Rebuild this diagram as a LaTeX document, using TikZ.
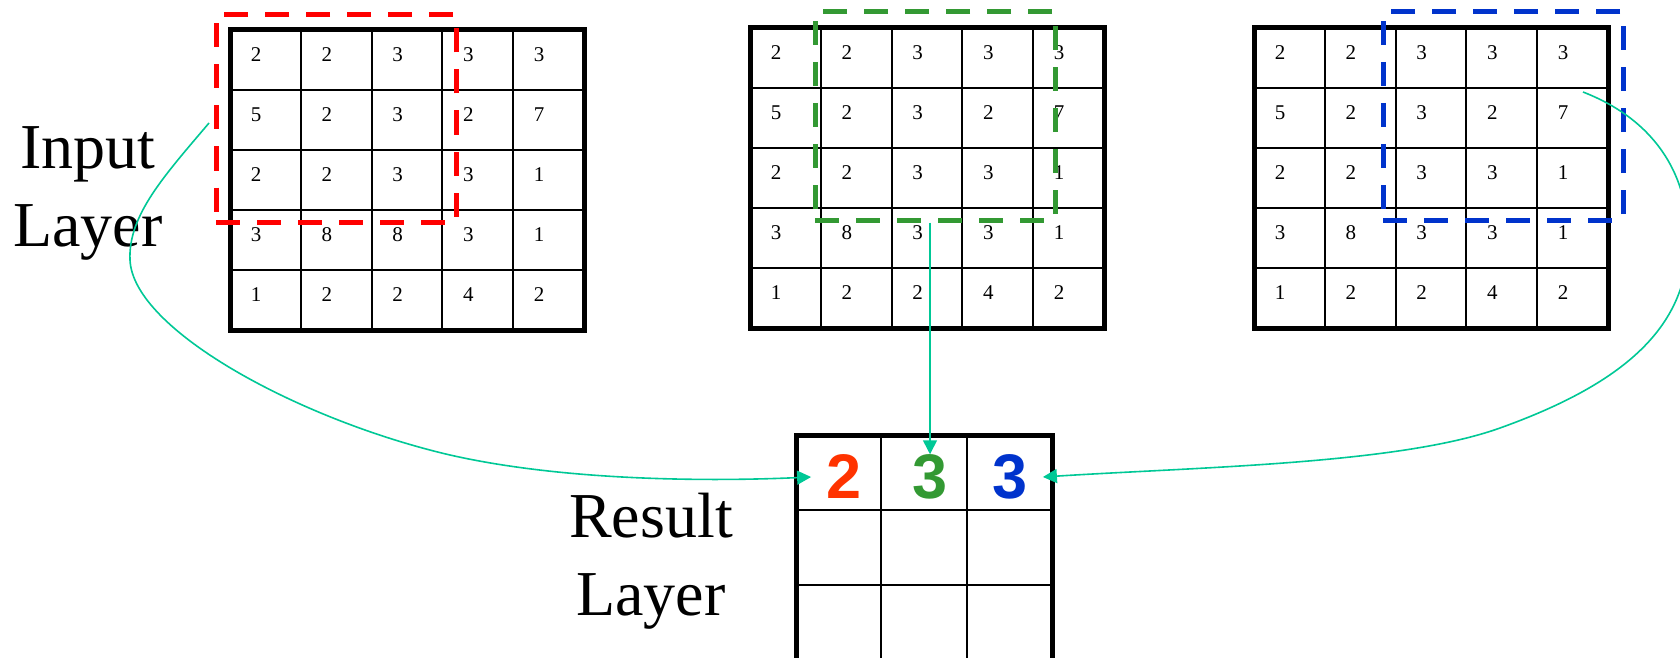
\documentclass[tikz,border=0pt]{standalone}
\usepackage{fontspec}
\setmainfont{Liberation Serif}
\newfontfamily\digitfont{Liberation Sans}
\usepackage{xcolor}
\usepackage{tikz}
\usetikzlibrary{arrows.meta, positioning, calc}
\definecolor{linkteal}{HTML}{00C896}
\definecolor{winred}{HTML}{FF0000}
\definecolor{wingreen}{HTML}{339933}
\definecolor{winblue}{HTML}{0033CC}
\definecolor{resred}{HTML}{FF3300}

\begin{document}
\begin{tikzpicture}[x=0.5pt, y=-0.5pt,
  num/.style={font=\fontsize{10.5}{12}\selectfont, inner sep=0pt},
  outer/.style={line width=2.5pt},
  inner/.style={line width=1pt},
  window/.style={line width=2.5pt, dash pattern=on 12pt off 8.5pt,
                 minimum width=120pt, minimum height=104pt, inner sep=0pt},
  res/.style={font=\digitfont\bfseries\fontsize{31.5}{32}\selectfont,
              inner xsep=7.5pt, inner ysep=0pt},
  layer/.style={font=\fontsize{32}{39}\selectfont, align=center, inner sep=0pt},
  link/.style={-{Triangle[length=7pt, width=7pt]}, color=linkteal, line width=0.8pt}
]
  \useasboundingbox (0,0) rectangle (1680,658);
  \clip (0,0) rectangle (1680,658);

  % input layers
  \foreach \g/\ox/\oy/\m in {a/230/30/8, b/750/28/3, c/1254/28/3} {
    \foreach \k in {1,...,4} {
      \draw[inner] (\ox+\k*70.8,\oy) -- (\ox+\k*70.8,\oy+300);
      \draw[inner] (\ox,\oy+\k*60) -- (\ox+354,\oy+\k*60);
    }
    \draw[outer] (\ox,\oy) rectangle (\ox+354,\oy+300);
    \foreach \row [count=\j from 0] in {{2,2,3,3,3},{5,2,3,2,7},{2,2,3,3,1},{3,8,\m,3,1},{1,2,2,4,2}}
      \foreach \v [count=\i from 0] in \row
        \node[num] (\g-\j-\i) at (\ox+26+\i*70.8,\oy+25+\j*60) {\v};
  }

  % result layer
  \foreach \k in {1,2} {
    \draw[inner] (796+\k*85.33,435) -- (796+\k*85.33,660);
    \draw[inner] (796,435+\k*75) -- (1052,435+\k*75);
  }
  \draw[outer] (796,435) rectangle (1052,660);

  \node[window, draw=winred]   (redwin)   at (336,118.5) {};
  \node[window, draw=wingreen] (greenwin) at (935,116) {};
  \node[window, draw=winblue]  (bluewin)  at (1503,116) {};

  \node[res, text=resred]   (res1) at (844,477) {2};
  \node[res, text=wingreen] (res2) at (930,477) {3};
  \node[res, text=winblue]  (res3) at (1010,477) {3};

  \node[layer] (inlabel)  at (88,193)  {Input\\Layer};
  \node[layer] (reslabel) at (651,561) {Result\\Layer};

  % links
  \coordinate (redtail)  at (209,123);
  \coordinate (bluetail) at (1583,92);
  \draw[link] (redtail) .. controls (165,175) and (128,215) .. (130,260)
    .. controls (133,330) and (300,420) .. (450,455)
    .. controls (560,480) and (700,482) .. (res1.west);
  \draw[link] (res2.north |- greenwin.south) -- (res2.north);
  \draw[link] (bluetail) .. controls (1650,118) and (1690,170) .. (1688,245)
    .. controls (1686,330) and (1620,385) .. (1500,428)
    .. controls (1400,464) and (1200,467) .. (res3.east);
\end{tikzpicture}
\end{document}
